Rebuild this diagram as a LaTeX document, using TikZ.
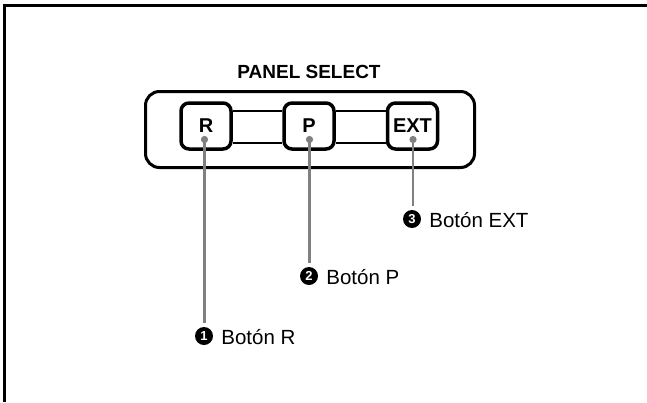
\documentclass[tikz,border=0pt]{standalone}
\usepackage{fontspec}
\setmainfont{Liberation Sans}
\begin{document}
\begin{tikzpicture}[x=1pt,y=-1pt,
  frameline/.style={line width=2.5pt},
  panelbox/.style={draw, line width=3pt, rounded corners=14pt},
  btn/.style={draw, line width=3.5pt, rounded corners=8pt, minimum width=50pt,
    minimum height=46pt, inner sep=0pt, font=\fontsize{20}{24}\selectfont\bfseries},
  bar/.style={line width=2pt},
  leader/.style={draw={rgb,255:red,128;green,128;blue,128}, line width=2.6pt, shorten >=4pt},
  dotc/.style={fill={rgb,255:red,128;green,128;blue,128}},
  num/.style={circle, fill=black, text=white, inner sep=0pt, minimum size=18pt,
    font=\fontsize{13}{13}\selectfont\bfseries},
  lbl/.style={inner sep=0pt, font=\fontsize{20.5}{24}\selectfont},
  title/.style={inner sep=0pt, font=\fontsize{19}{22}\selectfont\bfseries}]
\useasboundingbox (0,0) rectangle (647,402);
% frame (top and left only)
\draw[frameline] (4.5,402) -- (4.5,5.5) -- (647,5.5);
% title
\node[title] (title) at (309,72) {PANEL SELECT};
% panel
\draw[panelbox] (145.5,91.5) rectangle (474.5,167.5);
% buttons
\node[btn] (bR) at (206,126) {R};
\node[btn] (bP) at (309,126) {P};
\node[btn] (bE) at (412.5,126) {EXT};
% connecting bars
\draw[bar] ([yshift=15pt]bR.east) -- ([yshift=15pt]bP.west);
\draw[bar] ([yshift=-17pt]bR.east) -- ([yshift=-17pt]bP.west);
\draw[bar] ([yshift=15pt]bP.east) -- ([yshift=15pt]bE.west);
\draw[bar] ([yshift=-17pt]bP.east) -- ([yshift=-17pt]bE.west);
% dots
\coordinate (dR) at (204.5,139.5);
\coordinate (dP) at (309.5,139.5);
\coordinate (dE) at (413,139.5);
% numbered labels
\node[num] (n1) at (204,336) {1};
\node[num] (n2) at (309,276) {2};
\node[num] (n3) at (412,219) {3};
\node[lbl, anchor=base west] (t1) at ([xshift=8pt,yshift=-8.5pt]n1.east) {Botón R};
\node[lbl, anchor=base west] (t2) at ([xshift=8pt,yshift=-8.5pt]n2.east) {Botón P};
\node[lbl, anchor=base west] (t3) at ([xshift=8pt,yshift=-8.5pt]n3.east) {Botón EXT};
% leaders
\draw[leader] (dR) -- (dR |- n1.north);
\draw[leader] (dP) -- (dP |- n2.north);
\draw[leader] (dE) -- (dE |- n3.north);
\fill[dotc] (dR) circle (3.6);
\fill[dotc] (dP) circle (3.6);
\fill[dotc] (dE) circle (3.6);
\end{tikzpicture}
\end{document}
